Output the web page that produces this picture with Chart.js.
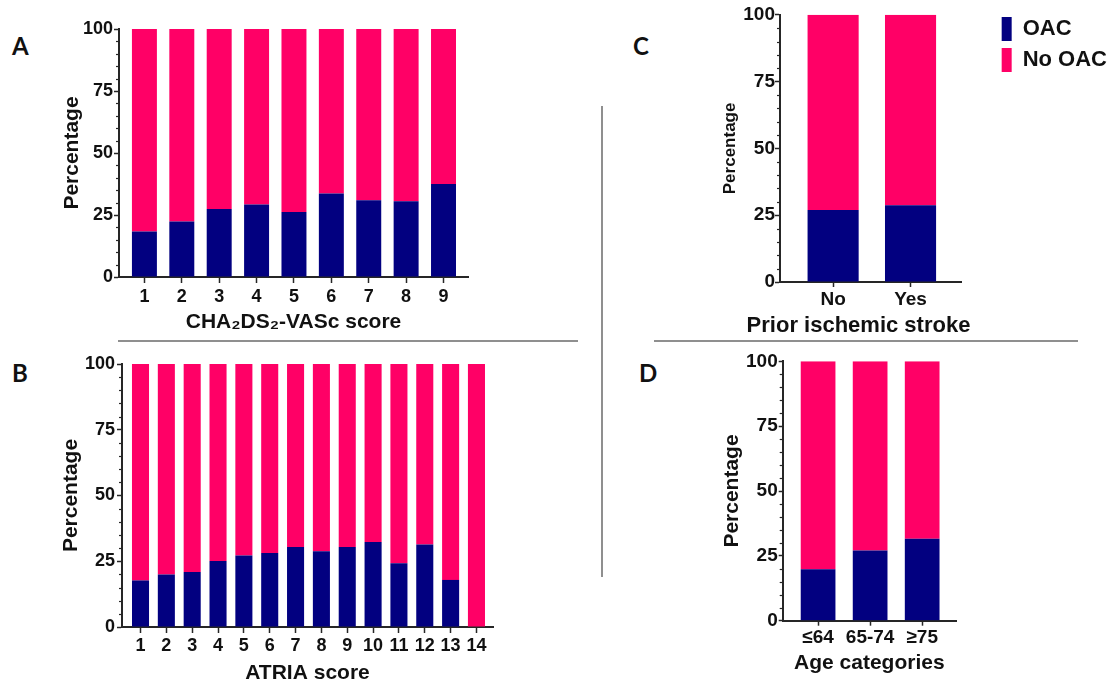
<!DOCTYPE html>
<html><head><meta charset="utf-8">
<script src="https://cdn.jsdelivr.net/npm/chart.js@4/dist/chart.umd.min.js"></script>
<style>
html,body{margin:0;padding:0;background:#fff;overflow:hidden;width:1107px;height:682px;position:relative;}
.wrap{position:absolute;}
.letter{position:absolute;font-family:Lato,'Open Sans',sans-serif;font-weight:700;font-size:24px;color:#111;line-height:1;}
.line{position:absolute;background:#8f8f8f;}
</style></head><body>
<div class="letter" style="left:12px;top:34px">A</div>
<div class="letter" style="left:12px;top:361px">B</div>
<div class="letter" style="left:633px;top:34px">C</div>
<div class="letter" style="left:639px;top:361px">D</div>
<div class="line" style="left:118px;top:340px;width:460px;height:2px"></div>
<div class="line" style="left:654px;top:340px;width:424px;height:2px"></div>
<div class="line" style="left:601px;top:106px;width:2px;height:471px"></div>
<div class="wrap" style="left:0;top:0"><canvas id="cA" width="560" height="340"></canvas></div>
<div class="wrap" style="left:0;top:340px"><canvas id="cB" width="560" height="350"></canvas></div>
<div class="wrap" style="left:600px;top:0"><canvas id="cC" width="540" height="340"></canvas></div>
<div class="wrap" style="left:600px;top:340px"><canvas id="cD" width="507" height="350"></canvas></div>
<script>
// ---- data ----
const seriesNames = ['OAC', 'No OAC'];
const yTickLabels = [0, 25, 50, 75, 100];

const chaCategories = ['1','2','3','4','5','6','7','8','9'];
const chaOAC   = [18.3, 22.4, 27.4, 29.2, 26.2, 33.7, 30.9, 30.5, 37.5];
const chaNoOAC = [81.7, 77.6, 72.6, 70.8, 73.8, 66.3, 69.1, 69.5, 62.5];

const atriaCategories = ['1','2','3','4','5','6','7','8','9','10','11','12','13','14'];
const atriaOAC   = [17.7, 20.0, 20.9, 25.1, 27.2, 28.1, 30.4, 28.8, 30.4, 32.3, 24.2, 31.4, 17.9, 0];
const atriaNoOAC = [82.3, 80.0, 79.1, 74.9, 72.8, 71.9, 69.6, 71.2, 69.6, 67.7, 75.8, 68.6, 82.1, 100];

const strokeCategories = ['No', 'Yes'];
const strokeOAC   = [26.9, 28.7];
const strokeNoOAC = [73.1, 71.3];

const ageCategories = ['≤64', '65-74', '≥75'];
const ageOAC   = [19.8, 27.1, 31.6];
const ageNoOAC = [80.2, 72.9, 68.4];

// ---- style ----
const OAC_COLOR = '#020080';
const NO_COLOR = '#FF0066';
const AXIS = '#262626';
const TXT = '#111111';
Chart.defaults.font.family = "'Liberation Sans', Arial, sans-serif";

const minorTicks = {
  id: 'minorTicks',
  afterDraw(chart) {
    const y = chart.scales.y, ctx = chart.ctx;
    ctx.save();
    ctx.strokeStyle = AXIS; ctx.lineWidth = 1.2;
    y.ticks.forEach(t => {
      if (!yTickLabels.includes(t.value)) {
        const p = Math.round(y.getPixelForValue(t.value)) + 0.5;
        ctx.beginPath(); ctx.moveTo(y.right - 3, p); ctx.lineTo(y.right, p); ctx.stroke();
      }
    });
    ctx.restore();
  }
};

function buildPanel(id, cats, oac, noOac, L) {
  const scales = {
    x: {
      type: 'linear', stacked: true, min: L.xmin, max: L.xmax, offset: false,
      afterBuildTicks: s => { s.ticks = cats.map((c, i) => ({ value: i + 1 })); },
      afterFit: s => { s.height = L.xh; },
      grid: { display: true, offset: false, drawOnChartArea: false, drawTicks: true, tickLength: L.xtl, tickColor: AXIS, tickWidth: 1.5 },
      border: { display: true, color: AXIS, width: 2 },
      ticks: { autoSkip: false, maxRotation: 0, padding: L.xtp, color: TXT, font: { size: L.tf, weight: 'bold' },
               callback: (v, i) => cats[i] },
      title: { display: !L.subtitle, text: L.xtitle, color: TXT, font: { size: L.xttf, weight: 'bold', lineHeight: 1 },
               padding: { top: 0, bottom: L.xtpb } }
    },
    y: {
      type: 'linear', stacked: true, min: 0, max: 100,
      afterFit: s => { s.width = L.yw; },
      grid: { display: true, drawOnChartArea: false, drawTicks: true, tickLength: L.ytl, tickWidth: 1.5,
              tickColor: c => (c.tick && yTickLabels.includes(c.tick.value)) ? AXIS : 'rgba(0,0,0,0)' },
      border: { display: true, color: AXIS, width: 2 },
      ticks: { stepSize: 5, autoSkip: false, padding: L.ytp, color: TXT, font: { size: L.tf, weight: 'bold' },
               callback: v => yTickLabels.includes(v) ? String(v) : '' },
      title: { display: true, text: 'Percentage', color: TXT, font: { size: L.yttf, weight: 'bold', lineHeight: 1 },
               padding: { top: L.ytpt, bottom: 0 } }
    }
  };
  if (L.spacer) {
    scales.y2 = { type: 'linear', position: 'right', display: true,
      grid: { display: false, drawTicks: false }, border: { display: false }, ticks: { display: false },
      afterFit: s => { s.width = L.spacer; } };
  }
  return new Chart(document.getElementById(id), {
    type: 'bar',
    data: { datasets: [
      { label: seriesNames[0], data: oac.map((v, i) => ({ x: i + 1, y: v })), backgroundColor: OAC_COLOR, borderWidth: 0 },
      { label: seriesNames[1], data: noOac.map((v, i) => ({ x: i + 1, y: v })), backgroundColor: NO_COLOR, borderWidth: 0 }
    ]},
    options: {
      responsive: false, animation: false, devicePixelRatio: 1,
      layout: { padding: L.pad },
      datasets: { bar: { barPercentage: L.bp, categoryPercentage: 1 } },
      plugins: {
        legend: L.legend || { display: false },
        title: L.title || { display: false },
        subtitle: L.subtitle || { display: false },
        tooltip: { enabled: false }
      },
      scales
    },
    plugins: [minorTicks]
  });
}

buildPanel('cA', chaCategories, chaOAC, chaNoOAC, {
  pad: { left: 0, top: 29, right: 92, bottom: 0 },
  xmin: 0.32, xmax: 9.655, bp: 0.668, xh: 63, yw: 119,
  xtl: 6, xtp: 3, ytl: 5, ytp: 1, tf: 18,
  xtitle: 'CHA₂DS₂-VASc score', xttf: 21, xtpb: 7.5,
  yttf: 21, ytpt: 61.5
});

buildPanel('cB', atriaCategories, atriaOAC, atriaNoOAC, {
  pad: { left: 0, top: 24, right: 67, bottom: 0 },
  xmin: 0.284, xmax: 14.64, bp: 0.66, xh: 63, yw: 122,
  xtl: 6, xtp: 2, ytl: 5, ytp: 2, tf: 18,
  xtitle: 'ATRIA score', xttf: 21, xtpb: 6,
  yttf: 21, ytpt: 61
});

buildPanel('cC', strokeCategories, strokeOAC, strokeNoOAC, {
  pad: { left: 0, top: 10, right: 23, bottom: 0 },
  xmin: 0.314, xmax: 2.654, bp: 0.66, xh: 30, yw: 180,
  xtl: 5, xtp: 1, ytl: 5, ytp: 0, tf: 19,
  xtitle: 'Prior ischemic stroke', xttf: 22, xtpb: 3,
  yttf: 17, ytpt: 121.5,
  spacer: 33.5,
  title: { display: true, text: '', padding: 0, font: { size: 4, lineHeight: 1.2 } },
  subtitle: { display: true, position: 'bottom', text: 'Prior ischemic stroke', color: TXT,
    font: { size: 22, weight: 'bold', lineHeight: 1 }, padding: { top: 3, bottom: 3 } },
  legend: { display: true, position: 'right', align: 'start', maxWidth: 300,
    labels: { boxWidth: 10, boxHeight: 24, padding: 7, color: TXT, font: { size: 22, weight: 'bold' } } }
});

buildPanel('cD', ageCategories, ageOAC, ageNoOAC, {
  pad: { left: 0, top: 21.3, right: 151, bottom: 0 },
  xmin: 0.32, xmax: 3.65, bp: 0.667, xh: 69.3, yw: 182.7,
  xtl: 5, xtp: 1, ytl: 4, ytp: 1, tf: 19,
  xtitle: 'Age categories', xttf: 21, xtpb: 16.5,
  yttf: 21, ytpt: 121.5
});
</script>
</body></html>
